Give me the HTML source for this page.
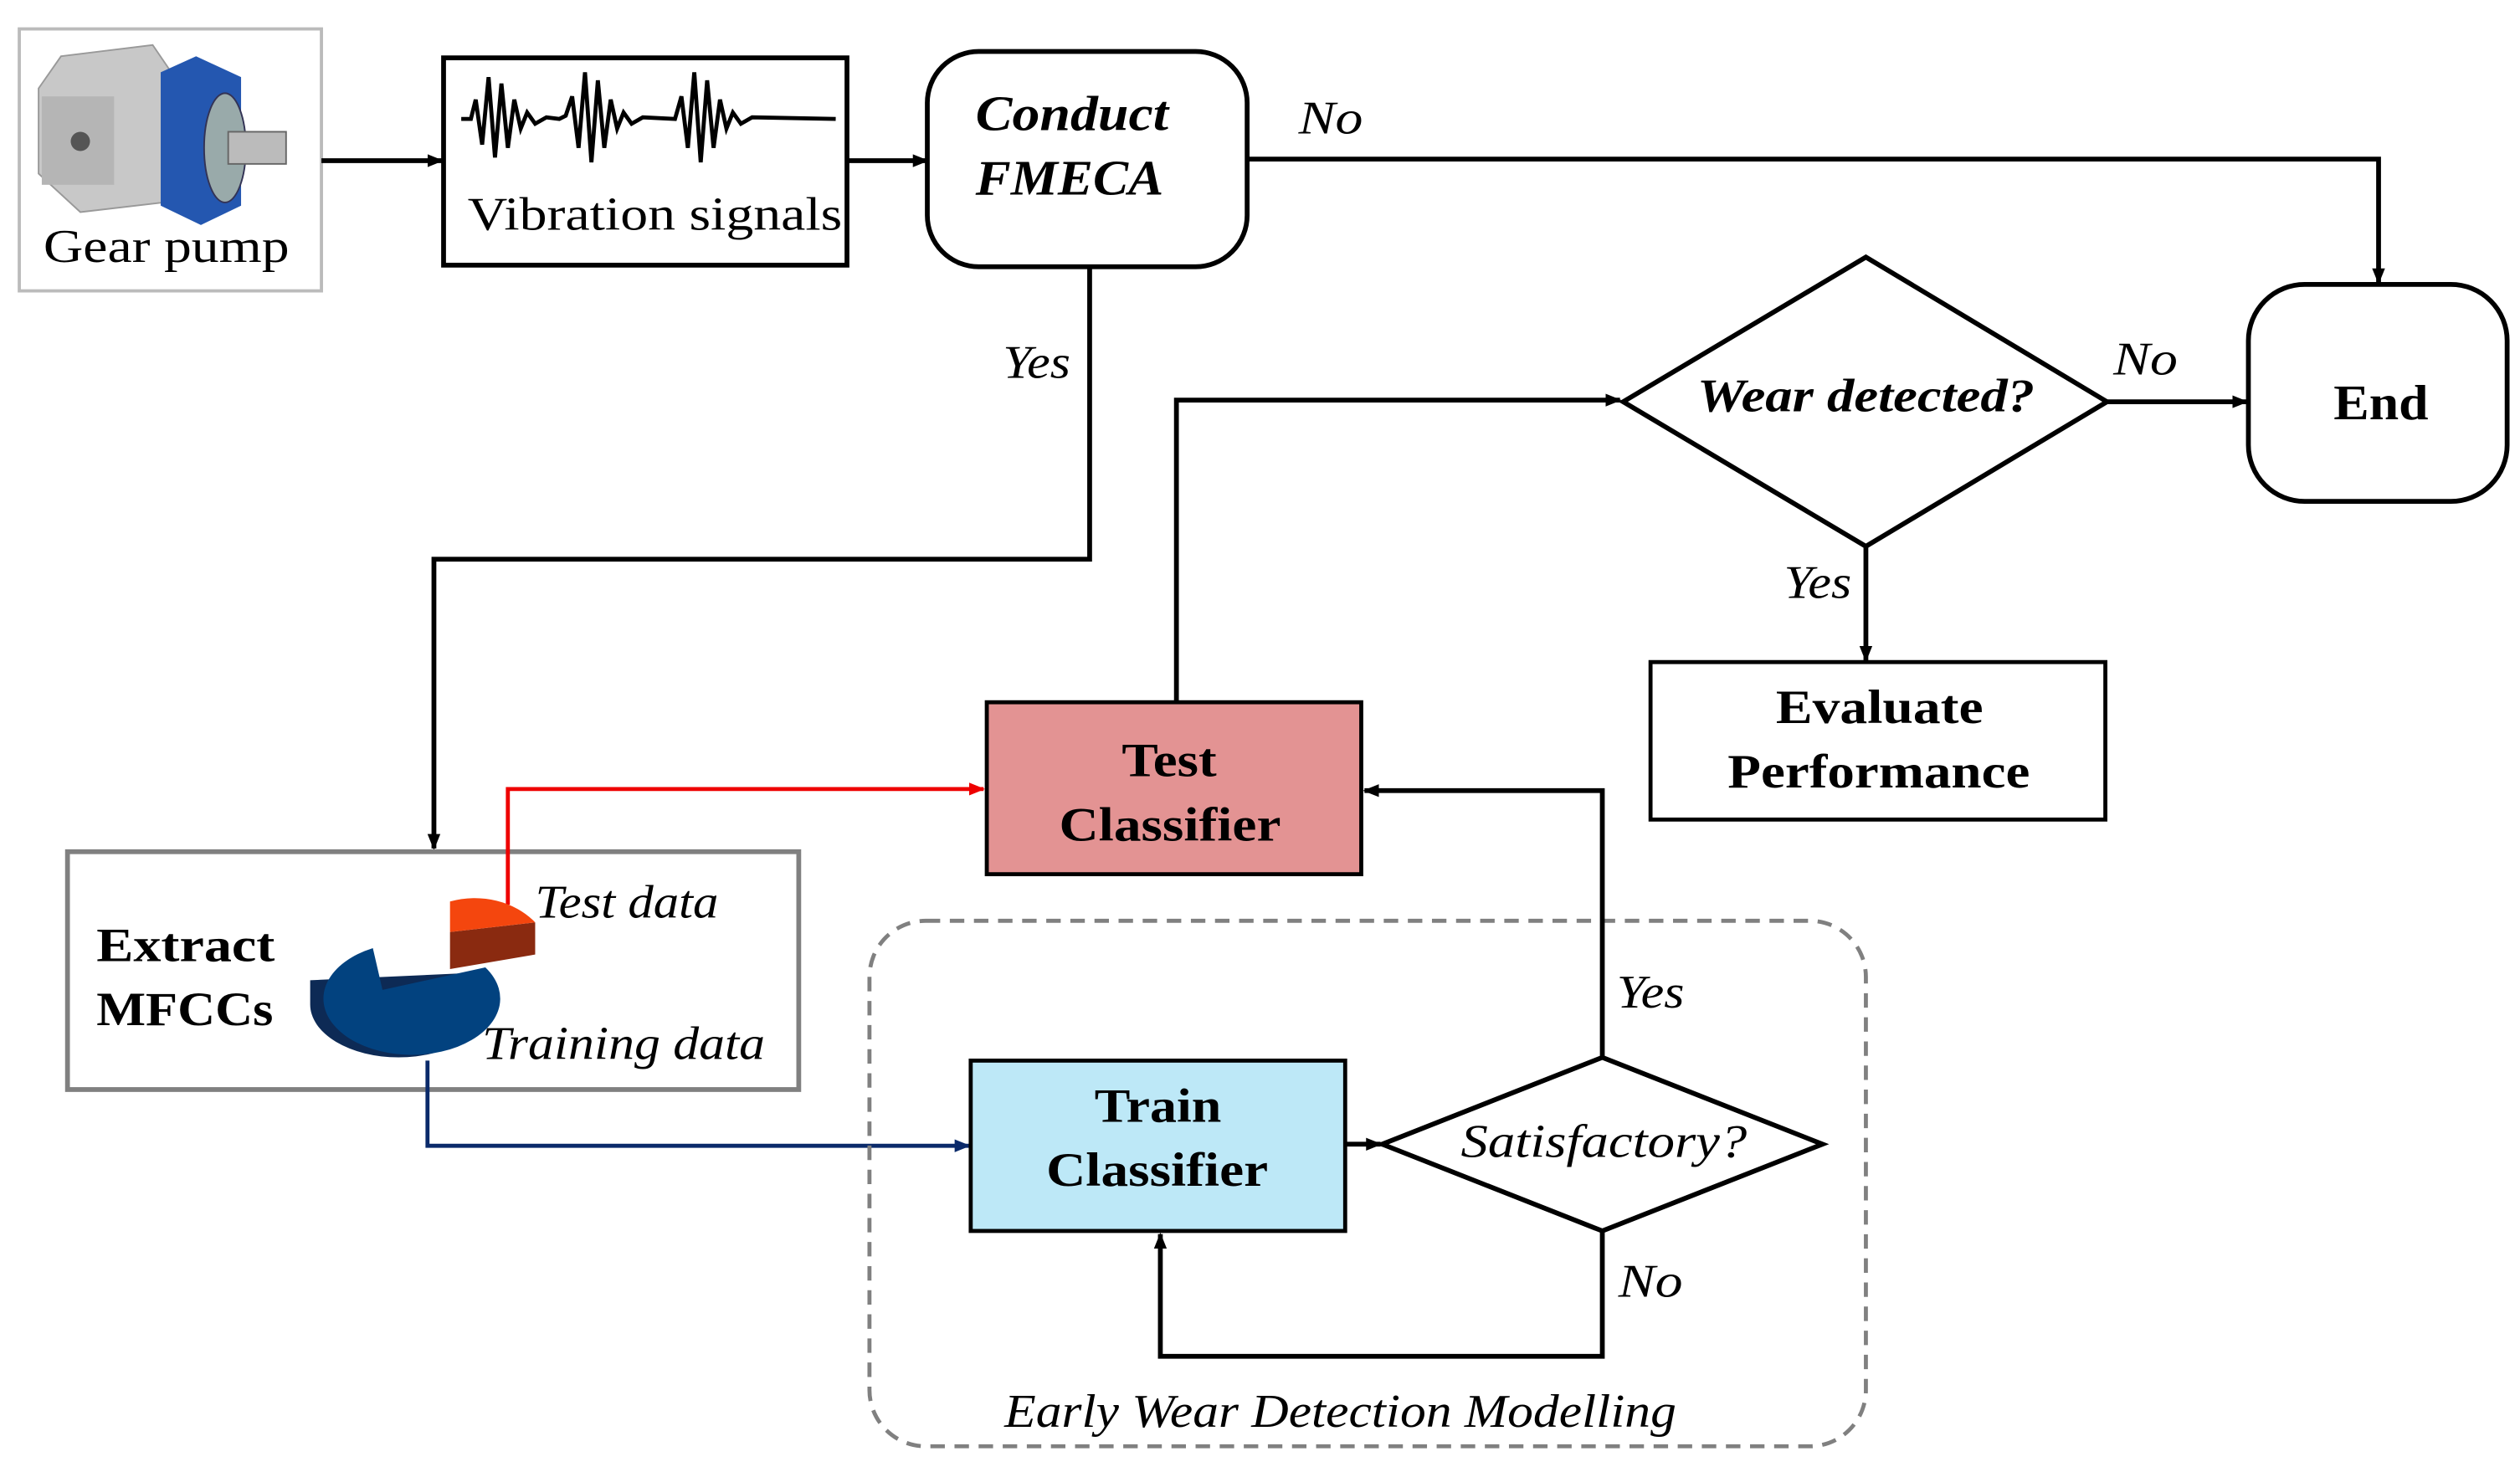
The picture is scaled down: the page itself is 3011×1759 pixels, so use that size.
<!DOCTYPE html>
<html><head><meta charset="utf-8"><style>
html,body{margin:0;padding:0;background:#fff;}
svg{display:block;}
</style></head><body>
<svg width="3011" height="1759" viewBox="0 0 1568 916" preserveAspectRatio="none" xmlns="http://www.w3.org/2000/svg" font-family="Liberation Serif, DejaVu Serif, serif">
<defs>
<marker id="ab" markerWidth="10" markerHeight="10" refX="9" refY="5" orient="auto" markerUnits="userSpaceOnUse"><path d="M0,1 L10,5 L0,9 z" fill="#000"/></marker>
<marker id="ar" markerWidth="10" markerHeight="10" refX="9" refY="5" orient="auto" markerUnits="userSpaceOnUse"><path d="M0,1 L10,5 L0,9 z" fill="#e00"/></marker>
<marker id="an" markerWidth="10" markerHeight="10" refX="9" refY="5" orient="auto" markerUnits="userSpaceOnUse"><path d="M0,1 L10,5 L0,9 z" fill="#0a2a6a"/></marker>
</defs>

<!-- Gear pump -->
<rect x="12" y="18" width="188" height="163" fill="#fff" stroke="#bbb" stroke-width="2"/>
<g>
<path d="M38,35 L95,28 L110,50 L110,125 L50,132 L24,108 L24,55 z" fill="#c8c8c8" stroke="#999"/>
<rect x="26" y="60" width="45" height="55" fill="#b5b5b5"/>
<circle cx="50" cy="88" r="6" fill="#555"/>
<path d="M100,45 L122,35 L150,48 L150,128 L125,140 L100,128 z" fill="#2457b0"/>
<ellipse cx="140" cy="92" rx="13" ry="34" fill="#9aa" stroke="#335"/>
<rect x="142" y="82" width="36" height="20" fill="#bbb" stroke="#666"/>
</g>
<text x="27" y="163" font-size="29" textLength="153" lengthAdjust="spacingAndGlyphs">Gear pump</text>

<line x1="200" y1="100" x2="275" y2="100" stroke="#000" stroke-width="3" marker-end="url(#ab)"/>

<!-- Vibration -->
<rect x="276" y="36" width="251" height="129" fill="#fff" stroke="#000" stroke-width="3"/>
<path d="M287,74 L293,74 L296,62 L300,90 L304,48 L308,98 L312,52 L316,92 L320,62 L324,80 L328,70 L333,77 L340,73 L348,74 L352,72 L356,60 L360,92 L364,45 L368,101 L372,50 L376,92 L380,62 L384,80 L388,70 L393,77 L400,73 L420,74 L424,60 L428,92 L432,45 L436,101 L440,50 L444,92 L448,62 L452,80 L456,70 L461,77 L468,73 L520,74" fill="none" stroke="#000" stroke-width="2.5"/>
<text x="291" y="143" font-size="29" textLength="233" lengthAdjust="spacingAndGlyphs">Vibration signals</text>

<line x1="527" y1="100" x2="577" y2="100" stroke="#000" stroke-width="3" marker-end="url(#ab)"/>

<!-- FMECA -->
<rect x="577" y="32" width="199" height="134" rx="32" fill="#fff" stroke="#000" stroke-width="3"/>
<text x="607" y="81" font-size="31" font-weight="bold" font-style="italic" textLength="120" lengthAdjust="spacingAndGlyphs">Conduct</text>
<text x="607" y="121" font-size="31" font-weight="bold" font-style="italic" textLength="117" lengthAdjust="spacingAndGlyphs">FMECA</text>

<polyline points="776,99 1480,99 1480,176" fill="none" stroke="#000" stroke-width="3" marker-end="url(#ab)"/>
<text x="808" y="83" font-size="29" font-style="italic" textLength="40" lengthAdjust="spacingAndGlyphs">No</text>

<polyline points="678,166 678,348 270,348 270,528" fill="none" stroke="#000" stroke-width="3" marker-end="url(#ab)"/>
<text x="624" y="235" font-size="29" font-style="italic" textLength="42" lengthAdjust="spacingAndGlyphs">Yes</text>

<!-- End -->
<rect x="1399" y="177" width="161" height="135" rx="35" fill="#fff" stroke="#000" stroke-width="3"/>
<text x="1452" y="261" font-size="31" font-weight="bold" textLength="59" lengthAdjust="spacingAndGlyphs">End</text>

<!-- Wear detected -->
<polygon points="1010,250 1161,160 1311,250 1161,340" fill="#fff" stroke="#000" stroke-width="3"/>
<text x="1056" y="256" font-size="29" font-weight="bold" font-style="italic" textLength="210" lengthAdjust="spacingAndGlyphs">Wear detected?</text>
<line x1="1311" y1="250" x2="1398" y2="250" stroke="#000" stroke-width="3" marker-end="url(#ab)"/>
<text x="1315" y="233" font-size="29" font-style="italic" textLength="40" lengthAdjust="spacingAndGlyphs">No</text>
<line x1="1161" y1="340" x2="1161" y2="411" stroke="#000" stroke-width="3" marker-end="url(#ab)"/>
<text x="1110" y="372" font-size="29" font-style="italic" textLength="42" lengthAdjust="spacingAndGlyphs">Yes</text>

<!-- Evaluate -->
<rect x="1027" y="412" width="283" height="98" fill="#fff" stroke="#000" stroke-width="2.5"/>
<text x="1105" y="450" font-size="30" font-weight="bold" textLength="129" lengthAdjust="spacingAndGlyphs">Evaluate</text>
<text x="1075" y="490" font-size="30" font-weight="bold" textLength="188" lengthAdjust="spacingAndGlyphs">Performance</text>

<!-- Test classifier -->
<polyline points="732,437 732,249 1008,249" fill="none" stroke="#000" stroke-width="3" marker-end="url(#ab)"/>
<rect x="614" y="437" width="233" height="107" fill="#e39393" stroke="#000" stroke-width="2.5"/>
<text x="698" y="483" font-size="30" font-weight="bold" textLength="59" lengthAdjust="spacingAndGlyphs">Test</text>
<text x="659" y="523" font-size="30" font-weight="bold" textLength="138" lengthAdjust="spacingAndGlyphs">Classifier</text>

<!-- Extract MFCCs -->
<rect x="42" y="530" width="455" height="148" fill="#fff" stroke="#808080" stroke-width="3"/>
<text x="60" y="598" font-size="30" font-weight="bold" textLength="111" lengthAdjust="spacingAndGlyphs">Extract</text>
<text x="60" y="638" font-size="30" font-weight="bold" textLength="110" lengthAdjust="spacingAndGlyphs">MFCCs</text>
<polyline points="316,563 316,491 612,491" fill="none" stroke="#e00" stroke-width="2.5" marker-end="url(#ar)"/>
<!-- pie -->
<path d="M280,580 L280,603 L333,594 L333,574 z" fill="#8a2a10"/>
<path d="M280,580 L280,561 A48,40 0 0 1 333,574 z" fill="#f4460e"/>
<path d="M193,610 L193,625 A55,33 0 0 0 303,625 L303,605 z" fill="#0d2a55"/>
<path d="M232,590 A55,35 0 1 0 302,602 L238,616 z" fill="#02427f"/>
<text x="333" y="571" font-size="29" font-style="italic" textLength="114" lengthAdjust="spacingAndGlyphs">Test data</text>
<text x="300" y="659" font-size="29" font-style="italic" textLength="176" lengthAdjust="spacingAndGlyphs">Training data</text>
<polyline points="266,660 266,713 603,713" fill="none" stroke="#0a2a6a" stroke-width="2.5" marker-end="url(#an)"/>

<!-- dashed group -->
<rect x="541" y="573" width="620" height="327" rx="35" fill="none" stroke="#808080" stroke-width="2.5" stroke-dasharray="9,6"/>
<text x="625" y="888" font-size="29" font-style="italic" textLength="418" lengthAdjust="spacingAndGlyphs">Early Wear Detection  Modelling</text>

<!-- Train classifier -->
<rect x="604" y="660" width="233" height="106" fill="#bde8f7" stroke="#000" stroke-width="2.5"/>
<text x="681" y="698" font-size="30" font-weight="bold" textLength="79" lengthAdjust="spacingAndGlyphs">Train</text>
<text x="651" y="738" font-size="30" font-weight="bold" textLength="138" lengthAdjust="spacingAndGlyphs">Classifier</text>
<line x1="837" y1="712" x2="859" y2="712" stroke="#000" stroke-width="3" marker-end="url(#ab)"/>

<!-- Satisfactory -->
<polygon points="860,712 997,658 1134,712 997,766" fill="#fff" stroke="#000" stroke-width="3"/>
<text x="909" y="720" font-size="29" font-style="italic" textLength="178" lengthAdjust="spacingAndGlyphs">Satisfactory?</text>
<polyline points="997,658 997,492 849,492" fill="none" stroke="#000" stroke-width="3" marker-end="url(#ab)"/>
<text x="1006" y="627" font-size="29" font-style="italic" textLength="42" lengthAdjust="spacingAndGlyphs">Yes</text>
<polyline points="997,766 997,844 722,844 722,768" fill="none" stroke="#000" stroke-width="3" marker-end="url(#ab)"/>
<text x="1007" y="807" font-size="29" font-style="italic" textLength="40" lengthAdjust="spacingAndGlyphs">No</text>
</svg>
</body></html>
